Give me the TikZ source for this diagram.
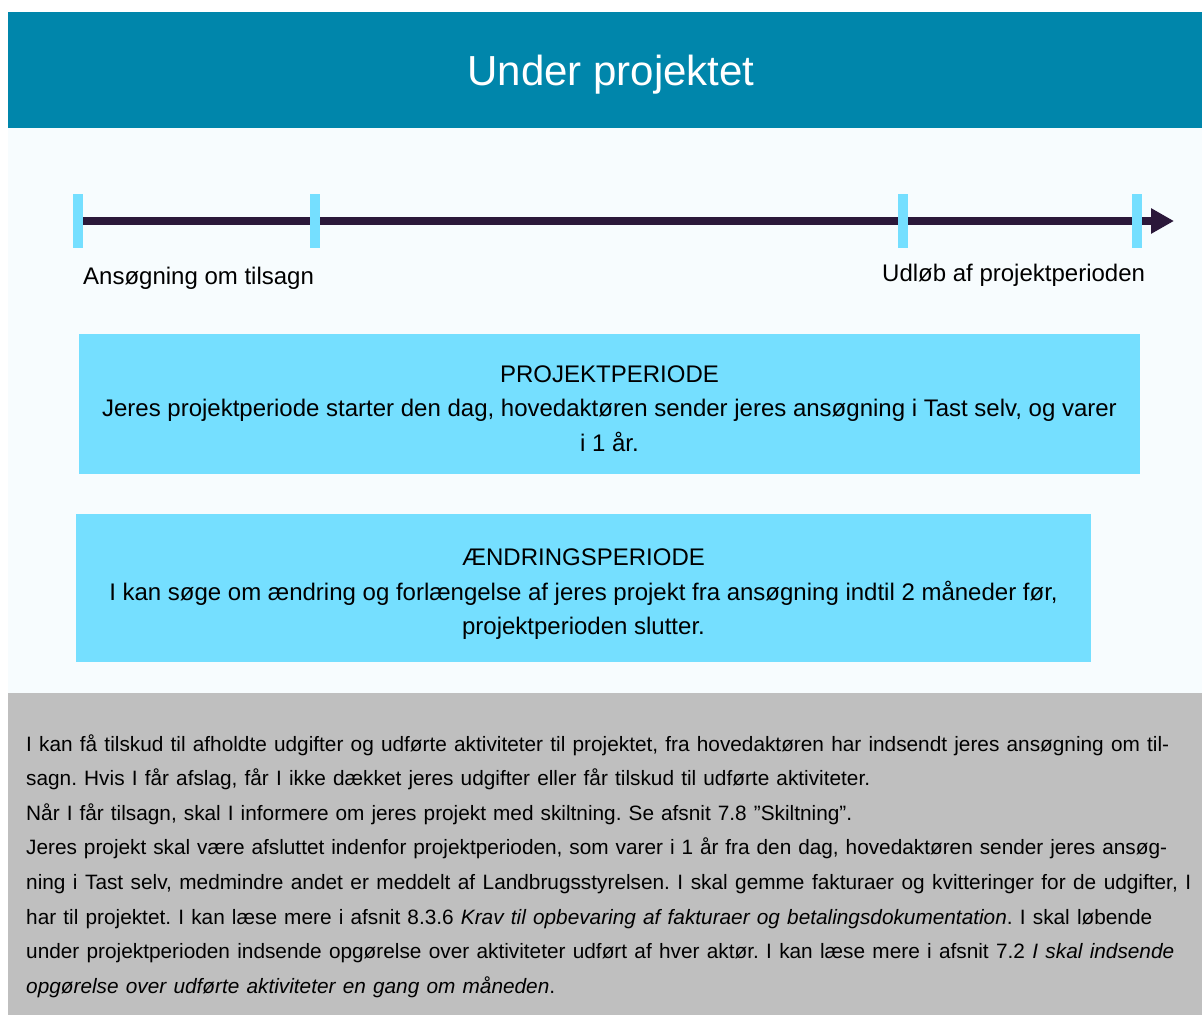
\documentclass[tikz,border=0pt]{standalone}
\usepackage{fontspec}
\setmainfont{Liberation Sans}
\usetikzlibrary{positioning,arrows.meta}
\definecolor{banner}{HTML}{0086AB}
\definecolor{pale}{HTML}{F7FCFE}
\definecolor{sky}{HTML}{75DFFF}
\definecolor{plum}{HTML}{2B183A}
\definecolor{grey}{HTML}{BFBFBF}

\begin{document}
\begin{tikzpicture}[x=1pt,y=-1pt,
box/.style={fill=sky,inner sep=0pt},
boxtext/.style={inner sep=0pt,align=center,font=\fontsize{24}{34.5}\selectfont},
tick/.style={fill=sky,inner sep=0pt,minimum width=10pt,minimum height=54pt},
lbl/.style={inner sep=0pt,anchor=base west,font=\fontsize{24}{29}\selectfont}]
\useasboundingbox (0,0) rectangle (1202,1015);
\fill[white] (0,0) rectangle (1202,1015);
\fill[pale] (8,128) rectangle (1202,693);
\fill[banner] (8,12) rectangle (1202,128);
\fill[grey] (8,693) rectangle (1202,1015);
\node (title) [inner sep=0pt,anchor=base,text=white,font=\fontsize{42}{50}\selectfont] at (611,85) {Under projektet};

\coordinate (t1) at (78,221);
\coordinate (t2) at (315,221);
\coordinate (t3) at (902.5,221);
\coordinate (t4) at (1136.5,221);
\coordinate (tip) at (1174,221);
\draw [plum,line width=8pt,-{Triangle[length=23pt,width=24pt]}] (t1) -- (tip);
\node (k1) [tick] at (t1) {};
\node (k2) [tick] at (t2) {};
\node (k3) [tick] at (t3) {};
\node (k4) [tick] at (t4) {};
\node (start) [lbl] at (83,284) {Ansøgning om tilsagn};
\node (end) [lbl] at (882,281) {Udløb af projektperioden};

\node (pp) [box,minimum width=1061pt,minimum height=140pt] at (609.5,404) {};
\node (pptext) [boxtext] at ([yshift=-4.6pt]pp.center) {PROJEKTPERIODE\\
Jeres projektperiode starter den dag, hovedaktøren sender jeres ansøgning i Tast selv, og varer\\
i 1 år.};
\node (ap) [box,minimum width=1015pt,minimum height=148pt] at (583.5,588) {};
\node (aptext) [boxtext] at ([yshift=-6.3pt]ap.center) {ÆNDRINGSPERIODE\\
I kan søge om ændring og forlængelse af jeres projekt fra ansøgning indtil 2 måneder før,\\
projektperioden slutter.};

\node (info) [inner sep=0pt,anchor=north west,text width=1176pt,align=flush left,
    font=\fontsize{20.8}{34.6}\selectfont\frenchspacing] at (26,734.2) {%
\makebox[1143pt][s]{I kan få tilskud til afholdte udgifter og udførte aktiviteter til projektet, fra hovedaktøren har indsendt jeres ansøgning om til-}\\
\makebox[844pt][s]{sagn. Hvis I får afslag, får I ikke dækket jeres udgifter eller får tilskud til udførte aktiviteter.}\\
\makebox[826pt][s]{Når I får tilsagn, skal I informere om jeres projekt med skiltning. Se afsnit 7.8 ”Skiltning”.}\\
\makebox[1141pt][s]{Jeres projekt skal være afsluttet indenfor projektperioden, som varer i 1 år fra den dag, hovedaktøren sender jeres ansøg-}\\
\makebox[1165pt][s]{ning i Tast selv, medmindre andet er meddelt af Landbrugsstyrelsen. I skal gemme fakturaer og kvitteringer for de udgifter, I}\\
\makebox[1126pt][s]{har til projektet. I kan læse mere i afsnit 8.3.6 \textit{Krav til opbevaring af fakturaer og betalingsdokumentation}. I skal løbende}\\
\makebox[1148pt][s]{under projektperioden indsende opgørelse over aktiviteter udført af hver aktør. I kan læse mere i afsnit 7.2 \textit{I skal indsende}}\\
\makebox[529pt][s]{\textit{opgørelse over udførte aktiviteter en gang om måneden}.}};
\end{tikzpicture}
\end{document}
